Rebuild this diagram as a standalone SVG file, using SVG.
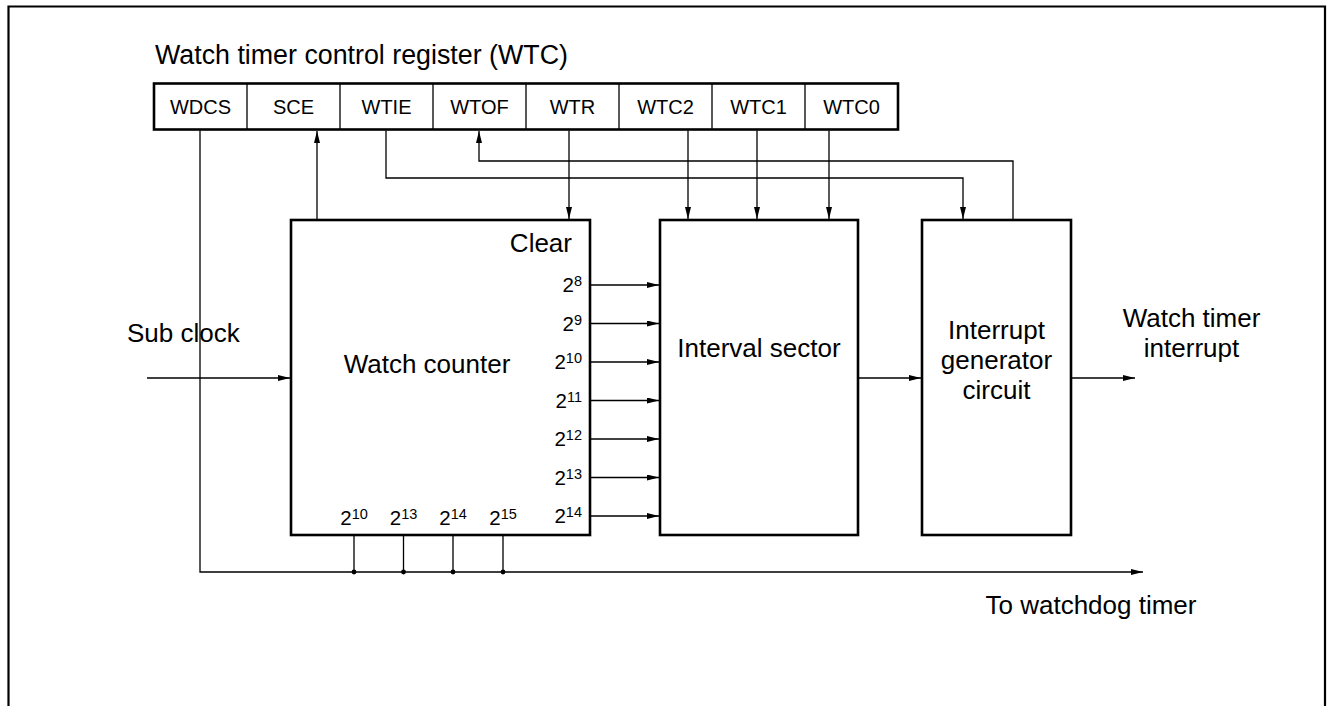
<svg xmlns="http://www.w3.org/2000/svg" width="1328" height="706" viewBox="0 0 1328 706">
<style>
text{font-family:"Liberation Sans",Arial,sans-serif;fill:#000}
.lbl{font-size:26px}
.ttl{font-size:26.8px}
.cell{font-size:20px;text-anchor:middle}
.pw{font-size:20.5px}
.sup{font-size:14.5px}
.box{fill:#fff;stroke:#000;stroke-width:2.6}
.thin{fill:none;stroke:#000;stroke-width:1.3}
.ar{fill:none;stroke:#000;stroke-width:1.3;marker-end:url(#ah)}
</style>
<defs>
<marker id="ah" markerUnits="userSpaceOnUse" markerWidth="13" markerHeight="7" refX="12" refY="3" orient="auto">
<path d="M0,0 L12,3 L0,6 z" fill="#000"/>
</marker>
</defs>
<rect width="1328" height="706" fill="#fff"/>
<path d="M8.5,706 V6.5 H1325 V706" fill="none" stroke="#000" stroke-width="2.2"/>

<g id="register">
<text class="ttl" x="155" y="64">Watch timer control register (WTC)</text>
<rect class="box" x="154" y="83.5" width="744" height="46"/>
<path class="thin" d="M247,83.5V129.5M340,83.5V129.5M433,83.5V129.5M526,83.5V129.5M619,83.5V129.5M712,83.5V129.5M805,83.5V129.5"/>
<text class="cell" x="200.5" y="114">WDCS</text>
<text class="cell" x="293.5" y="114">SCE</text>
<text class="cell" x="386.5" y="114">WTIE</text>
<text class="cell" x="479.5" y="114">WTOF</text>
<text class="cell" x="572.5" y="114">WTR</text>
<text class="cell" x="665.5" y="114">WTC2</text>
<text class="cell" x="758.5" y="114">WTC1</text>
<text class="cell" x="851.5" y="114">WTC0</text>
</g>

<g id="connectors">
<path class="ar" d="M200,130.5 V572 H1143"/>
<path class="thin" d="M354,536 V572 M403.5,536 V572 M453,536 V572 M503,536 V572"/>
<circle cx="354" cy="572" r="2.4"/>
<circle cx="403.5" cy="572" r="2.4"/>
<circle cx="453" cy="572" r="2.4"/>
<circle cx="503" cy="572" r="2.4"/>
<path class="ar" d="M317,219 V131"/>
<path class="ar" d="M386,130.5 V178 H963 V219"/>
<path class="ar" d="M1013,219 V161 H479 V131"/>
<path class="ar" d="M569,130.5 V219"/>
<path class="ar" d="M688,130.5 V219"/>
<path class="ar" d="M757,130.5 V219"/>
<path class="ar" d="M829,130.5 V219"/>
<path class="ar" d="M147,378 H290"/>
<path class="ar" d="M591,285 H659"/>
<path class="ar" d="M591,323.5 H659"/>
<path class="ar" d="M591,362 H659"/>
<path class="ar" d="M591,400.5 H659"/>
<path class="ar" d="M591,439 H659"/>
<path class="ar" d="M591,477.5 H659"/>
<path class="ar" d="M591,516 H659"/>
<path class="ar" d="M859,378 H921"/>
<path class="ar" d="M1072,378 H1135"/>
</g>

<g id="subclock">
<text class="lbl" x="127" y="342">Sub clock</text>
</g>

<g id="watch-counter">
<rect class="box" x="291" y="220" width="299" height="315"/>
<text class="lbl" x="427" y="373" text-anchor="middle">Watch counter</text>
<text class="lbl" x="572" y="252" text-anchor="end">Clear</text>
<text class="pw" x="582" y="292" text-anchor="end">2<tspan class="sup" dy="-6">8</tspan></text>
<text class="pw" x="582" y="330.5" text-anchor="end">2<tspan class="sup" dy="-6">9</tspan></text>
<text class="pw" x="582" y="369" text-anchor="end">2<tspan class="sup" dy="-6">10</tspan></text>
<text class="pw" x="582" y="407.5" text-anchor="end">2<tspan class="sup" dy="-6">11</tspan></text>
<text class="pw" x="582" y="446" text-anchor="end">2<tspan class="sup" dy="-6">12</tspan></text>
<text class="pw" x="582" y="484.5" text-anchor="end">2<tspan class="sup" dy="-6">13</tspan></text>
<text class="pw" x="582" y="523" text-anchor="end">2<tspan class="sup" dy="-6">14</tspan></text>
<text class="pw" x="354" y="525" text-anchor="middle">2<tspan class="sup" dy="-6">10</tspan></text>
<text class="pw" x="403.5" y="525" text-anchor="middle">2<tspan class="sup" dy="-6">13</tspan></text>
<text class="pw" x="453" y="525" text-anchor="middle">2<tspan class="sup" dy="-6">14</tspan></text>
<text class="pw" x="503" y="525" text-anchor="middle">2<tspan class="sup" dy="-6">15</tspan></text>
</g>

<g id="interval-sector">
<rect class="box" x="660" y="220" width="198" height="315"/>
<text class="lbl" x="759" y="357" text-anchor="middle">Interval sector</text>
</g>

<g id="interrupt-generator">
<rect class="box" x="922" y="220" width="149" height="315"/>
<text class="lbl" x="996.5" y="339" text-anchor="middle">Interrupt</text>
<text class="lbl" x="996.5" y="369" text-anchor="middle">generator</text>
<text class="lbl" x="996.5" y="399" text-anchor="middle">circuit</text>
</g>

<g id="watch-timer-interrupt">
<text class="lbl" x="1191.5" y="327" text-anchor="middle">Watch timer</text>
<text class="lbl" x="1191.5" y="357" text-anchor="middle">interrupt</text>
</g>

<g id="to-watchdog">
<text class="lbl" x="1091" y="614" text-anchor="middle">To watchdog timer</text>
</g>
</svg>
